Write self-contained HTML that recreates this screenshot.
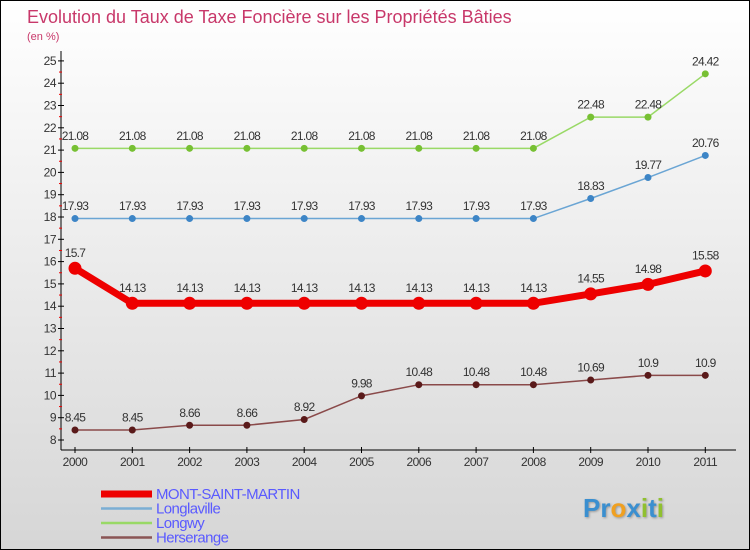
<!DOCTYPE html>
<html><head><meta charset="utf-8"><style>
body{margin:0}
#c{width:750px;height:550px;position:relative;box-sizing:border-box;border:1px solid #000;background:linear-gradient(#fff,#d6d6d6);font-family:"Liberation Sans",sans-serif;overflow:hidden}
</style></head><body>
<div id="c">
<svg id="s" width="748" height="548" style="position:absolute;left:0;top:0;font-family:'Liberation Sans',sans-serif">
<text x="26" y="22" font-size="18" fill="#c8386a">Evolution du Taux de Taxe Foncière sur les Propriétés Bâties</text>
<text x="26" y="39" font-size="11" fill="#c8386a">(en %)</text>
</svg>
</div>
<script>
const years=[2000,2001,2002,2003,2004,2005,2006,2007,2008,2009,2010,2011];
const mont=[15.7,14.13,14.13,14.13,14.13,14.13,14.13,14.13,14.13,14.55,14.98,15.58];
const longlaville=[17.93,17.93,17.93,17.93,17.93,17.93,17.93,17.93,17.93,18.83,19.77,20.76];
const longwy=[21.08,21.08,21.08,21.08,21.08,21.08,21.08,21.08,21.08,22.48,22.48,24.42];
const herserange=[8.45,8.45,8.66,8.66,8.92,9.98,10.48,10.48,10.48,10.69,10.9,10.9];
const yTicks=[8,9,10,11,12,13,14,15,16,17,18,19,20,21,22,23,24,25];
const s=document.getElementById('s'),NS='http://www.w3.org/2000/svg';
const X=i=>74+i*57.3, Y=v=>439-(v-8)*22.3;
function el(t,a,p){const e=document.createElementNS(NS,t);for(const k in a)e.setAttribute(k,a[k]);(p||s).appendChild(e);return e;}
let ax=el('line',{x1:60,y1:50,x2:60,y2:449,stroke:'#000'});
let bx=el('line',{x1:60,y1:449,x2:735,y2:449,stroke:'#000'});
yTicks.forEach(v=>{el('line',{x1:57,y1:Y(v),x2:63,y2:Y(v),stroke:'#000'});
if(v<25)el('line',{x1:58,y1:Y(v+0.5),x2:61,y2:Y(v+0.5),stroke:'#e00'});
const t=el('text',{x:55,y:Y(v)+4,'text-anchor':'end','font-size':12,fill:'#333','letter-spacing':'-0.5'});t.textContent=v;
});
years.forEach((y,i)=>{el('line',{x1:X(i),y1:446,x2:X(i),y2:452,stroke:'#000'});
const t=el('text',{x:X(i),y:465,'text-anchor':'middle','font-size':12,fill:'#333','letter-spacing':'-0.5'});t.textContent=y;
});
function series(d,col,pt,w,r,name){
const p=el('polyline',{points:d.map((v,i)=>X(i)+','+Y(v)).join(' '),fill:'none',stroke:col,'stroke-width':w});

d.forEach((v,i)=>{const c=el('circle',{cx:X(i),cy:Y(v),r:r,fill:pt});
const t=el('text',{x:X(i),y:Y(v)-(r+5),'text-anchor':'middle','font-size':12,fill:'#333','letter-spacing':'-0.7'});t.textContent=v;
});}
series(longwy,'#99d966','#77c033',1.5,3.5,'longwy');
series(longlaville,'#6aa5d4','#3d85c6',1.5,3.5,'longlaville');
series(herserange,'#8a4a4a','#5a1a1a',1.5,3.5,'herserange');
series(mont,'#ee0000','#ee0000',7,6.5,'mont-saint-martin');
const leg=[['MONT-SAINT-MARTIN','#ee0000',7],['Longlaville','#7aaed4',2.5],['Longwy','#99d966',2.5],['Herserange','#8a5555',2.5]];
leg.forEach((l,i)=>{const y=493+i*14.5;
const g=el('g',{});
el('line',{x1:100,y1:y,x2:151,y2:y,stroke:l[1],'stroke-width':l[2]},g);
const t=el('text',{x:155,y:y+5,'font-size':15,fill:'#5a5aff','letter-spacing':'-0.6'},g);t.textContent=l[0];});
const lg=el('text',{x:582,y:516,'font-size':26,'font-weight':'bold',fill:'#3a8fd0',style:'text-shadow:1px 1px 2px #999'});

[['P','#3a8fd0'],['r','#3a8fd0'],['o','#f0a020'],['x','#3a8fd0'],['i','#90c030'],['t','#3a8fd0'],['i','#90c030']].forEach(c=>{const sp=el('tspan',{fill:c[1]},lg);sp.textContent=c[0];});
</script>
</body></html>
